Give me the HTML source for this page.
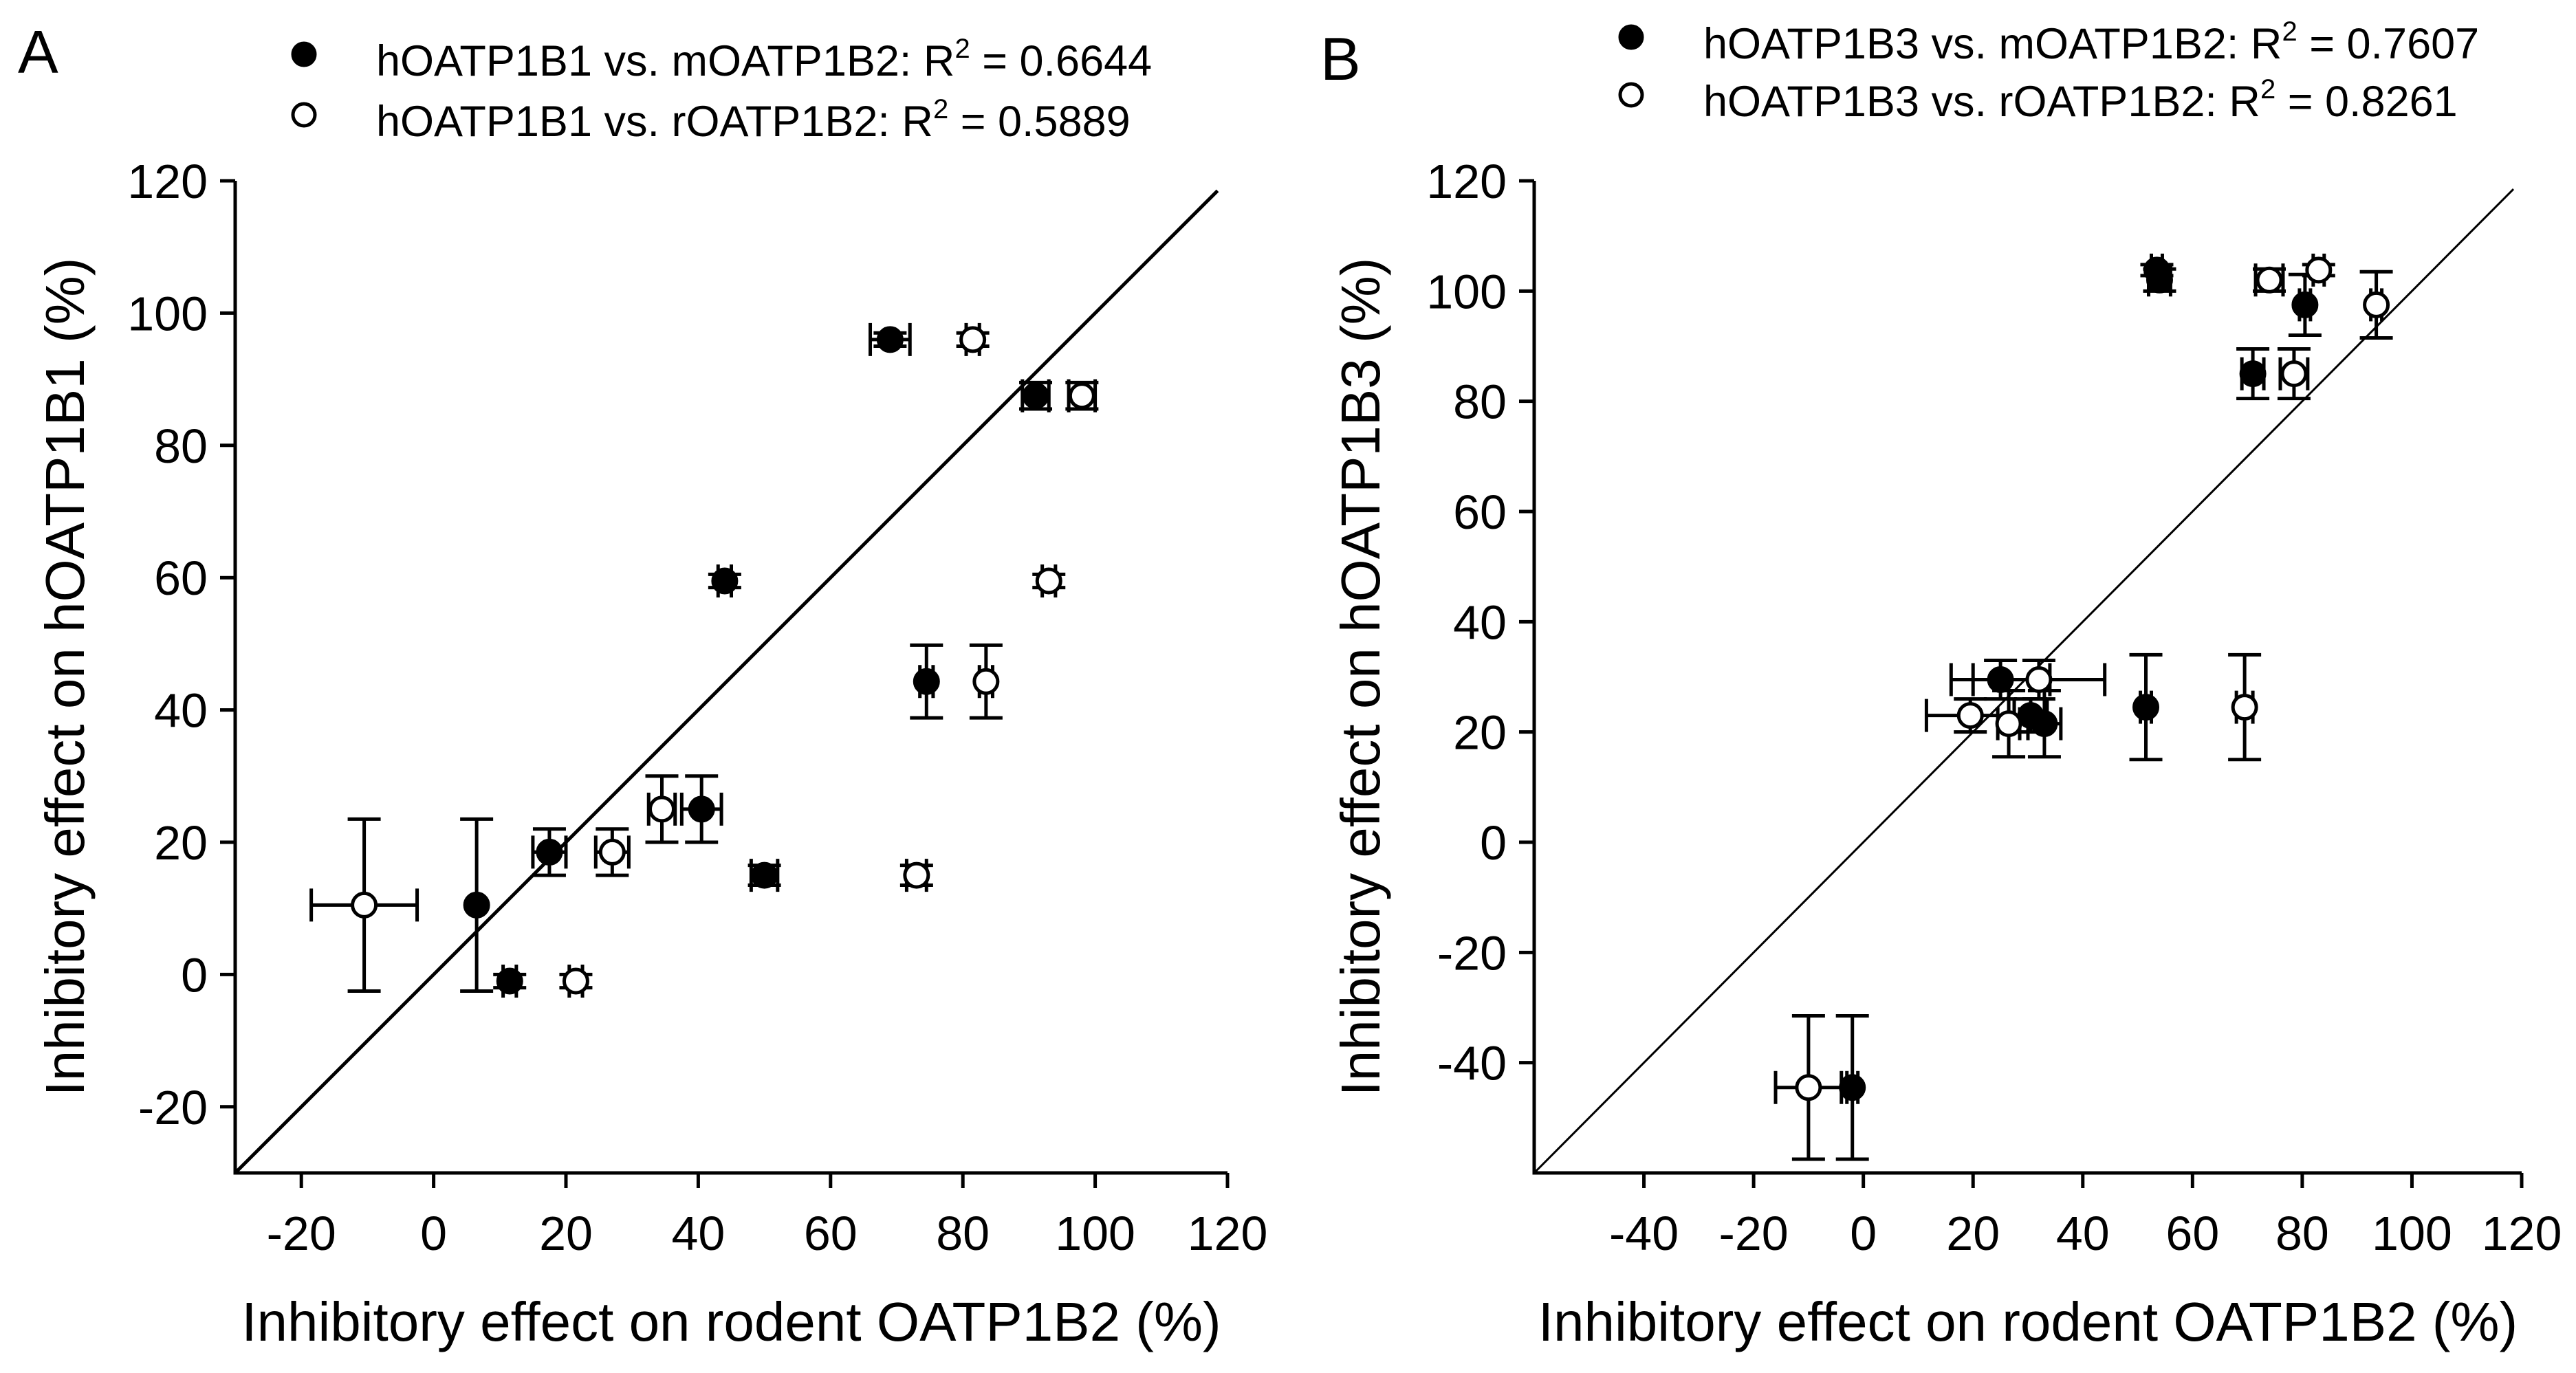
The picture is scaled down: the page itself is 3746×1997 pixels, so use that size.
<!DOCTYPE html>
<html><head><meta charset="utf-8"><style>
html,body{margin:0;padding:0;background:#fff;}
svg{display:block;font-family:"Liberation Sans",Arial,sans-serif;}
</style></head><body>
<svg id="fig" width="3746" height="1997" viewBox="0 0 3746 1997" xmlns="http://www.w3.org/2000/svg">
<rect width="3746" height="1997" fill="#fff"/>
<g id="panelA"></g>
<g id="panelB"></g>
</svg>
<script>
// Panel A data: x, y, xerr, yerr
const aFilledX=[69,91,44,74.5,40.5,50,17.5,6.5,11.5];
const aFilledY=[96,87.5,59.5,44.3,25,15,18.5,10.5,-1];
const aFilledXE=[3,2,1,1,3,2,2.5,0,1];
const aFilledYE=[1,2,1,5.5,5,1.5,3.5,13,1];
const aOpenX=[81.5,98,93,83.5,34.5,73,27,-10.5,21.5];
const aOpenY=[96,87.5,59.5,44.3,25,15,18.5,10.5,-1];
const aOpenXE=[1,2,1,1,2,1.5,2.5,8,1];
const aOpenYE=[1,2,1,5.5,5,1.5,3.5,13,1];
const aXTicks=[-20,0,20,40,60,80,100,120];
const aYTicks=[-20,0,20,40,60,80,100,120];
// Panel B data
const bFilledX=[53.5,54,80.5,71,51.5,25,30.5,33,-2];
const bFilledY=[103.8,102,97.5,85,24.5,29.5,23,21.5,-44.5];
const bFilledXE=[1,2,1,2,1,9,3,3,1];
const bFilledYE=[1,2,5.5,4.5,9.5,3.5,3,6,13];
const bOpenX=[83,74,93.5,78.5,69.5,32,19.5,26.5,-10];
const bOpenY=[103.8,102,97.5,85,24.5,29.5,23,21.5,-44.5];
const bOpenXE=[1,2.5,1,2.5,1.5,12,8,2,6];
const bOpenYE=[1,2,6,4.5,9.5,3.5,3,6,13];
const bXTicks=[-40,-20,0,20,40,60,80,100,120];
const bYTicks=[-40,-20,0,20,40,60,80,100,120];

const NS='http://www.w3.org/2000/svg';
function mk(parent,tag,attrs,text){const e=document.createElementNS(NS,tag);for(const k in attrs)e.setAttribute(k,attrs[k]);if(text!==undefined)e.textContent=text;parent.appendChild(e);return e;}

function panel(g,cfg){
  const sx=v=>cfg.x0+(v-cfg.xmin)/(cfg.xmax-cfg.xmin)*(cfg.x1-cfg.x0);
  const sy=v=>cfg.y0-(v-cfg.ymin)/(cfg.ymax-cfg.ymin)*(cfg.y0-cfg.y1);
  const ax=mk(g,'path',{d:`M${cfg.x0} ${cfg.y1} V${cfg.y0} H${cfg.x1}`,fill:'none',stroke:'#000','stroke-width':5});
  
  
  cfg.xt.forEach(t=>{
    const l=mk(g,'line',{x1:sx(t),x2:sx(t),y1:cfg.y0,y2:cfg.y0+22,stroke:'#000','stroke-width':5});
    
    
    const tx=mk(g,'text',{x:sx(t),y:1818,'text-anchor':'middle','font-size':70},String(t));
    
    
  });
  cfg.yt.forEach(t=>{
    const l=mk(g,'line',{x1:cfg.x0-22,x2:cfg.x0,y1:sy(t),y2:sy(t),stroke:'#000','stroke-width':5});
    
    
    const tx=mk(g,'text',{x:cfg.x0-40,y:sy(t)+25,'text-anchor':'end','font-size':70},String(t));
    
    
  });
  const id=mk(g,'line',{x1:sx(cfg.xmin),y1:sy(cfg.ymin),x2:sx(118.5),y2:sy(118.5),stroke:'#000','stroke-width':cfg.lw});
  
  
  function series(X,Y,XE,YE,filled,name){
    const sg=mk(g,'g',{});
    
    
    X.forEach((x,i)=>{
      const cx=sx(x),cy=sy(Y[i]);
      const xl=sx(x-XE[i]),xr=sx(x+XE[i]),yt=sy(Y[i]+YE[i]),yb=sy(Y[i]-YE[i]);
      const e=mk(sg,'path',{d:`M${xl} ${cy}H${xr}M${xl} ${cy-24}V${cy+24}M${xr} ${cy-24}V${cy+24}M${cx} ${yt}V${yb}M${cx-24} ${yt}H${cx+24}M${cx-24} ${yb}H${cx+24}`,stroke:'#000','stroke-width':5,fill:'none'});
      
      
      const c=mk(sg,'circle',{cx:cx,cy:cy,r:17,fill:filled?'#000':'#fff',stroke:'#000','stroke-width':5});
      
      
    });
  }
  series(cfg.fX,cfg.fY,cfg.fXE,cfg.fYE,true,'series-mouse');
  series(cfg.oX,cfg.oY,cfg.oXE,cfg.oYE,false,'series-rat');
  cfg.leg.forEach((L,i)=>{
    const c=mk(g,'circle',{cx:cfg.lx,cy:cfg.ly[i],r:16,fill:i==0?'#000':'#fff',stroke:'#000','stroke-width':5});
    
    
    const t=mk(g,'text',{x:cfg.tx,y:cfg.ly[i]+31,'font-size':63});
    
    
    mk(t,'tspan',{},L[0]+' R');
    mk(t,'tspan',{'font-size':40,dy:-26},'2');
    mk(t,'tspan',{dy:26},' = '+L[1]);
  });
  const lab=mk(g,'text',{x:cfg.labx,y:cfg.laby,'font-size':88},cfg.lab);
  
  
  const xt=mk(g,'text',{x:(cfg.x0+cfg.x1)/2,y:1950,'text-anchor':'middle','font-size':80},'Inhibitory effect on rodent OATP1B2 (%)');
  
  
  const yt=mk(g,'text',{x:0,y:0,'text-anchor':'middle','font-size':80,transform:`translate(${cfg.ytx},${(cfg.y0+cfg.y1)/2}) rotate(-90)`},cfg.ytitle);
  
  
}

panel(document.getElementById('panelA'),{x0:342,x1:1785,y0:1706,y1:263,xmin:-30,xmax:120,ymin:-30,ymax:120,
  xt:aXTicks,yt:aYTicks,lw:5,fX:aFilledX,fY:aFilledY,fXE:aFilledXE,fYE:aFilledYE,oX:aOpenX,oY:aOpenY,oXE:aOpenXE,oYE:aOpenYE,
  leg:[['hOATP1B1 vs. mOATP1B2:','0.6644'],['hOATP1B1 vs. rOATP1B2:','0.5889']],lx:442,ly:[79,167],tx:547,
  lab:'A',labx:26,laby:106,ytitle:'Inhibitory effect on hOATP1B1 (%)',ytx:122});
panel(document.getElementById('panelB'),{x0:2231,x1:3667,y0:1706,y1:263,xmin:-60,xmax:120,ymin:-60,ymax:120,
  xt:bXTicks,yt:bYTicks,lw:3,fX:bFilledX,fY:bFilledY,fXE:bFilledXE,fYE:bFilledYE,oX:bOpenX,oY:bOpenY,oXE:bOpenXE,oYE:bOpenYE,
  leg:[['hOATP1B3 vs. mOATP1B2:','0.7607'],['hOATP1B3 vs. rOATP1B2:','0.8261']],lx:2372,ly:[54,138],tx:2477,
  lab:'B',labx:1920,laby:116,ytitle:'Inhibitory effect on hOATP1B3 (%)',ytx:2006});
</script>
</body></html>
